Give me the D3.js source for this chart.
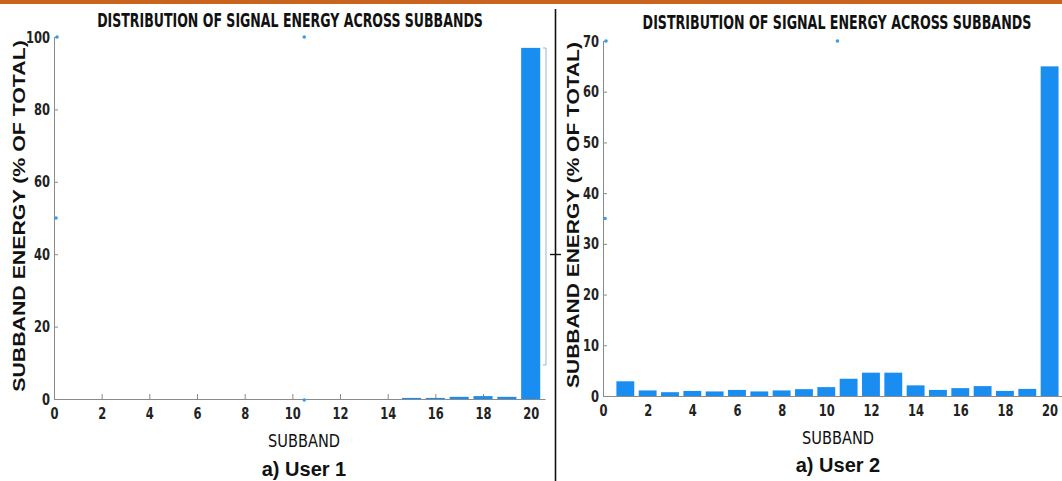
<!DOCTYPE html>
<meta charset="utf-8">
<style>
body { margin: 0; background: #fff; }
svg { display: block; }
.axis path, .axis line { stroke: #8a8a8a; }
.axis text { font: bold 16px "DejaVu Sans Condensed", sans-serif; fill: #222; }
.title { font: bold 20px "DejaVu Sans Condensed", sans-serif; fill: #111; }
.ylab { font: bold 17px "Liberation Sans", Arial, sans-serif; fill: #111; }
.xlab { font: 17px "DejaVu Sans Condensed", sans-serif; fill: #111; }
.cap { font: bold 20px "Liberation Sans", Arial, sans-serif; fill: #111; }
</style>
<svg></svg>
<script src="https://cdn.jsdelivr.net/npm/d3@7"></script>
<script>

var width = 1062, height = 481;

// subband index 1..20
var subbands = d3.range(1, 21);

// user 1: nearly all energy in subband 20
var user1 = [0, 0, 0, 0, 0, 0, 0, 0, 0, 0, 0, 0, 0, 0, 0.3, 0.3, 0.6, 0.8, 0.6, 97];

// user 2
var user2 = [2.9, 1.1, 0.75, 1.0, 0.9, 1.2, 0.9, 1.1, 1.35, 1.75, 3.4, 4.6, 4.6, 2.1, 1.2, 1.55, 1.95, 1.0, 1.4, 65];

var xTicks = [0, 2, 4, 6, 8, 10, 12, 14, 16, 18, 20];
var yTicks1 = [0, 20, 40, 60, 80, 100];
var yTicks2 = [0, 10, 20, 30, 40, 50, 60, 70];

var titleText = "DISTRIBUTION OF SIGNAL ENERGY ACROSS SUBBANDS";
var yLabelText = "SUBBAND ENERGY (% OF TOTAL)";
var xLabelText = "SUBBAND";

var svg = d3.select("svg")
    .attr("width", width)
    .attr("height", height);

// orange band across the top
svg.append("rect")
    .attr("x", 0).attr("y", 0)
    .attr("width", width).attr("height", 4)
    .attr("fill", "#c8641e");

// divider between the two panels
svg.append("line")
    .attr("x1", 555.5).attr("x2", 555.5)
    .attr("y1", 9).attr("y2", height)
    .attr("stroke", "#111").attr("stroke-width", 1.6);
svg.append("line")
    .attr("x1", 550).attr("x2", 561)
    .attr("y1", 254.5).attr("y2", 254.5)
    .attr("stroke", "#111").attr("stroke-width", 1.4);

// squeeze a text horizontally so it spans w pixels
function fitWidth(sel, cx, cy, w, rot) {
  var n = sel.node().getComputedTextLength();
  var k = w / n;
  sel.attr("transform", "translate(" + cx + "," + cy + ")" + (rot ? " rotate(-90)" : "") + " scale(" + k + ",1)");
}

function panel(opt) {
  var x = d3.scaleLinear().domain([0, 20.6]).range([opt.left, opt.left + opt.plotW]);
  var y = d3.scaleLinear().domain([0, opt.ymax]).range([opt.bottom, opt.top]);
  var g = svg.append("g");

  g.append("g")
      .attr("class", "axis")
      .attr("transform", "translate(0," + opt.bottom + ")")
      .call(d3.axisBottom(x).tickValues(xTicks).tickSize(-5).tickSizeOuter(0).tickPadding(9))
      .call(function(s) {
        s.select(".domain").attr("stroke-width", 1.2);
        s.selectAll(".tick text").attr("transform", "scale(0.8,1)");
      });

  g.append("g")
      .attr("class", "axis")
      .attr("transform", "translate(" + opt.left + ",0)")
      .call(d3.axisLeft(y).tickValues(opt.yTicks).tickSize(-4).tickSizeOuter(0).tickPadding(4))
      .call(function(s) {
        s.selectAll(".tick text").attr("transform", "scale(0.8,1)").attr("x", -5);
      });

  var bw = (x(1) - x(0)) * 0.8;
  g.selectAll("rect.bar")
      .data(opt.values)
    .enter().append("rect")
      .attr("class", "bar")
      .attr("x", function(d, i) { return x(subbands[i]) - bw / 2; })
      .attr("y", function(d) { return y(d); })
      .attr("width", bw)
      .attr("height", function(d) { return opt.bottom - y(d); })
      .attr("fill", "#1a8df0");

  // small blue markers at the axis mid points
  var mid = [[x(10.5), y(opt.ymax)], [opt.left + 2, y(opt.ymax / 2)], [opt.left + 3, y(opt.ymax)]];
  if (opt.bottomDot) mid.push([x(10.5), opt.bottom + 1]);
  g.selectAll("circle.mk")
      .data(mid)
    .enter().append("circle")
      .attr("class", "mk")
      .attr("cx", function(d) { return d[0]; })
      .attr("cy", function(d) { return d[1]; })
      .attr("r", 1.8)
      .attr("fill", "#3a9be6");

  g.append("text")
      .attr("class", "title")
      .attr("text-anchor", "middle")
      .text(titleText)
      .call(fitWidth, opt.titleX, opt.titleY, opt.titleW, false);

  g.append("text")
      .attr("class", "ylab")
      .attr("text-anchor", "middle")
      .text(yLabelText)
      .call(fitWidth, opt.ylabX, opt.ylabY, opt.ylabW, true);

  g.append("text")
      .attr("class", "xlab")
      .attr("text-anchor", "middle")
      .text(xLabelText)
      .call(fitWidth, opt.xlabX, opt.xlabY, 72, false);

  g.append("text")
      .attr("class", "cap")
      .attr("x", opt.xlabX).attr("y", opt.capY)
      .attr("text-anchor", "middle")
      .text(opt.caption);

  return { x: x, y: y };
}

var p1 = panel({
  left: 54, plotW: 491, top: 37, bottom: 399, ymax: 100, yTicks: yTicks1,
  values: user1, titleX: 290, titleY: 27, titleW: 386, ylabX: 25, ylabY: 216, ylabW: 352,
  xlabX: 304, xlabY: 447, capY: 476, caption: "a) User 1", bottomDot: true
});

var p2 = panel({
  left: 603, plotW: 460, top: 41, bottom: 396, ymax: 70, yTicks: yTicks2,
  values: user2, titleX: 837, titleY: 29, titleW: 389, ylabX: 579, ylabY: 215, ylabW: 346,
  xlabX: 838, xlabY: 444, capY: 472, caption: "a) User 2", bottomDot: false
});

// faint bracket line right of the user 1 bar
svg.append("path")
    .attr("d", "M543,48 L546,48 L546,365 L543,365")
    .attr("fill", "none")
    .attr("stroke", "#9fb3d0")
    .attr("stroke-width", 1);

</script>
